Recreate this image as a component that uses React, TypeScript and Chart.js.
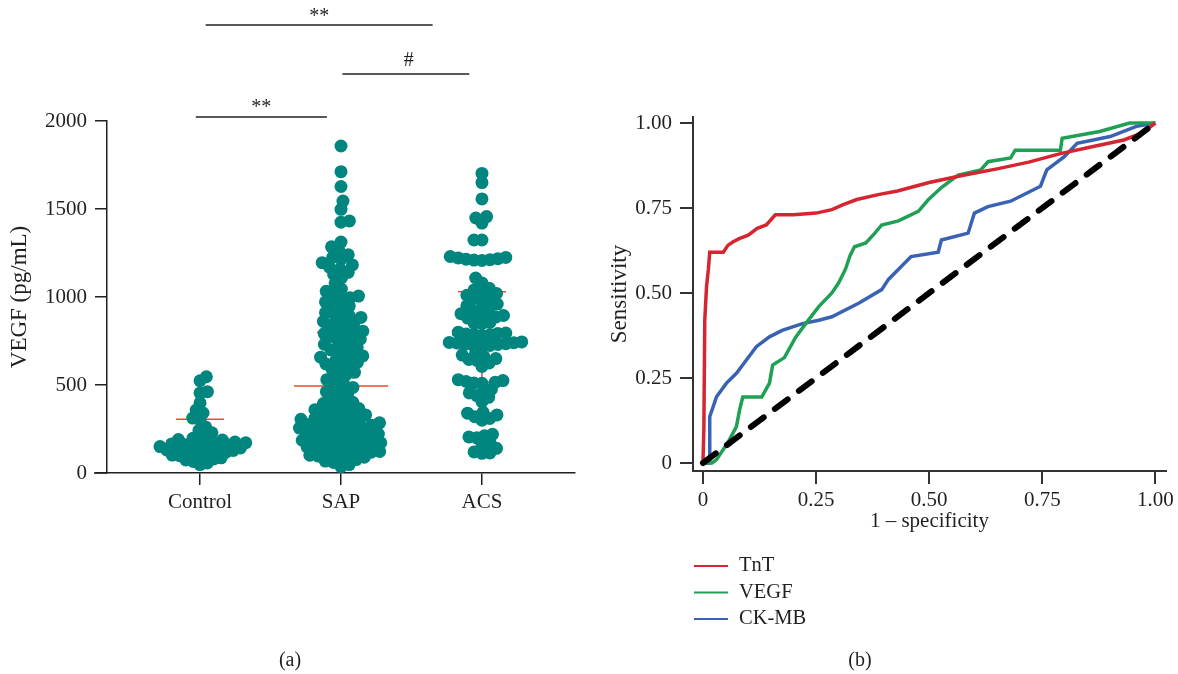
import React, { useEffect, useRef } from 'react';
import { Chart, registerables } from 'chart.js';

Chart.register(...registerables);

const FONT = "'Liberation Serif', 'Times New Roman', 'DejaVu Serif', serif";
const INK = '#231f20';
const TEAL = '#00857f';
const MEDIAN_RED = '#ec4a2c';

// ---------- Panel (a) data ----------
const groupNames = ['Control', 'SAP', 'ACS'];
const controlValues = [547, 524, 462, 455, 398, 358, 341, 312, 302, 262, 242, 228, 215, 198, 190, 187, 182, 176, 172, 168, 165, 162, 159, 155, 152, 150, 146, 142, 139, 135, 131, 128, 125, 121, 118, 112, 108, 102, 98, 92, 86, 80, 74, 66, 57, 48];
const sapValues = [1858, 1712, 1628, 1545, 1498, 1432, 1425,
  1312, 1285, 1262, 1240, 1226, 1215, 1195, 1182, 1170, 1158, 1140, 1128, 1110, 1078,
  1045, 1032, 1018, 1005, 996, 988, 972, 960, 948, 935,
  912, 905, 896, 884, 878, 862, 855, 840, 832, 818, 806, 798, 792,
  782, 776, 760, 752, 745, 731, 718, 712, 700, 688, 676, 665, 658, 650, 642, 628, 620, 611, 603,
  588, 572, 560, 548, 530, 515, 502, 486, 470, 462, 448, 430, 418,
  402, 395, 382, 376, 366, 360, 352, 345, 336, 330, 322, 318, 310, 305, 298, 292, 288, 285,
  280, 276, 271, 266, 262, 255, 252, 246, 241, 236, 232, 228, 221, 216, 212, 205, 201, 198, 192, 186, 182, 178, 172, 166, 161, 158, 152, 147, 142, 138, 131, 127, 122, 118, 112, 106, 101, 96,
  90, 84, 76, 68, 60, 48, 36];
const acsValues = [1702, 1650, 1557, 1457, 1449, 1420, 1324, 1324,
  1230, 1225, 1222, 1218, 1215, 1212, 1210, 1208,
  1108, 1080, 1050, 1040, 1030, 1020, 1010, 1000, 990, 983,
  960, 950, 943, 935, 920, 905, 898, 895, 890, 886, 880,
  855, 852, 848,
  800, 795, 793, 790, 788, 785, 780,
  745, 742, 740, 738, 735, 732, 730, 728, 725, 722,
  685, 670, 660, 650, 645, 640,
  625, 605,
  530, 525, 520, 515, 512, 510,
  475, 465, 455, 440, 430,
  405,
  345, 340, 330, 320, 310, 300,
  220, 212, 205, 200,
  175, 165, 140, 120, 114, 112];
const vegfTicks = [0, 500, 1000, 1500, 2000];
const centreLine = [305, 494, 784];
const spreadLow = [165, 240, 517];
const spreadHigh = [305, 800, 1030];
const bracketFrom = [0.97, 2.01, 1.04];
const bracketTo = [1.9, 2.91, 2.65];
const bracketLevel = [2023, 2267, 2545];
const bracketLabel = ['**', '#', '**'];

// ---------- Panel (b) data ----------
const rocTicks = [0, 0.25, 0.5, 0.75, 1];
const rocTickLabels = ['0', '0.25', '0.50', '0.75', '1.00'];
const tntX = [0, 0.002, 0.004, 0.006, 0.008, 0.012, 0.015, 0.045, 0.055, 0.066, 0.08, 0.1, 0.12, 0.14, 0.16, 0.2, 0.25, 0.285, 0.31, 0.34, 0.39, 0.43, 0.5, 0.57, 0.65, 0.72, 0.79, 0.86, 0.93, 0.97, 1.0];
const tntY = [0, 0.1, 0.42, 0.47, 0.52, 0.57, 0.62, 0.62, 0.64, 0.65, 0.66, 0.67, 0.69, 0.7, 0.73, 0.73, 0.735, 0.745, 0.76, 0.775, 0.79, 0.8, 0.825, 0.845, 0.865, 0.885, 0.91, 0.93, 0.95, 0.97, 1.0];
const vegfX = [0, 0.02, 0.03, 0.04, 0.055, 0.074, 0.081, 0.088, 0.13, 0.147, 0.154, 0.18, 0.205, 0.227, 0.256, 0.285, 0.3, 0.315, 0.325, 0.335, 0.36, 0.38, 0.395, 0.432, 0.476, 0.498, 0.527, 0.564, 0.614, 0.63, 0.68, 0.69, 0.79, 0.794, 0.877, 0.943, 1.0];
const vegfY = [0, 0, 0.01, 0.03, 0.06, 0.107, 0.156, 0.194, 0.194, 0.235, 0.288, 0.31, 0.37, 0.41, 0.46, 0.5, 0.53, 0.57, 0.61, 0.636, 0.647, 0.676, 0.7, 0.712, 0.74, 0.774, 0.81, 0.847, 0.862, 0.886, 0.897, 0.92, 0.92, 0.955, 0.975, 1.0, 1.0];
const ckmbX = [0, 0.015, 0.015, 0.03, 0.052, 0.074, 0.096, 0.118, 0.147, 0.175, 0.22, 0.256, 0.285, 0.344, 0.395, 0.41, 0.46, 0.52, 0.527, 0.586, 0.6, 0.63, 0.68, 0.746, 0.76, 0.798, 0.827, 0.9, 0.958, 1.0];
const ckmbY = [0, 0, 0.136, 0.195, 0.235, 0.264, 0.303, 0.342, 0.371, 0.39, 0.41, 0.42, 0.43, 0.47, 0.51, 0.54, 0.607, 0.62, 0.656, 0.676, 0.735, 0.754, 0.77, 0.814, 0.862, 0.9, 0.94, 0.96, 0.99, 1.0];
const chanceX = [0, 1];
const chanceY = [0, 1];

function swarm(values: number[], pxPerVal: number, d: number): number[] {
  const order = values.map((_, i) => i).sort((a, b) => values[a] - values[b]);
  const placed: { x: number; y: number }[] = [];
  const out: number[] = new Array(values.length).fill(0);
  let flip = false;
  for (const i of order) {
    const y = values[i] * pxPerVal;
    const near = placed.filter((p) => Math.abs(p.y - y) < d);
    const cands = [0];
    for (const p of near) {
      const dx = Math.sqrt(d * d - (p.y - y) * (p.y - y));
      cands.push(p.x + dx, p.x - dx);
    }
    cands.sort((a, b) => Math.abs(a) - Math.abs(b) || (flip ? b - a : a - b));
    let chosen = 0;
    for (const c of cands) {
      if (near.every((p) => (p.x - c) ** 2 + (p.y - y) ** 2 >= d * d - 1e-6)) { chosen = c; break; }
    }
    flip = !flip;
    placed.push({ x: chosen, y });
    out[i] = chosen;
  }
  return out;
}

const font = { family: FONT, size: 21 };
const yTitleFont = { family: FONT, size: 23 };

const panelAPlugin = {
  id: 'panelA',
  beforeDatasetsDraw(chart: any) {
    const { ctx, scales } = chart;
    const x = scales.x, y = scales.y;
    const centreHalf = [24, 47, 30];
    const capHalf = [36, 24, 24];
    ctx.save();
    ctx.strokeStyle = MEDIAN_RED;
    ctx.lineWidth = 1.5;
    for (let g = 0; g < 3; g++) {
      const cx = x.getPixelForValue(g + 1);
      const yc = y.getPixelForValue(centreLine[g]);
      const yl = y.getPixelForValue(spreadLow[g]);
      const yh = y.getPixelForValue(spreadHigh[g]);
      ctx.beginPath();
      ctx.moveTo(cx - centreHalf[g], yc); ctx.lineTo(cx + centreHalf[g], yc);
      ctx.moveTo(cx, yl); ctx.lineTo(cx, yh);
      ctx.moveTo(cx - capHalf[g], yl); ctx.lineTo(cx + capHalf[g], yl);
      if (spreadHigh[g] !== centreLine[g]) {
        ctx.moveTo(cx - capHalf[g], yh); ctx.lineTo(cx + capHalf[g], yh);
      }
      ctx.stroke();
    }
    ctx.restore();
  },
  afterDraw(chart: any) {
    const { ctx, scales, chartArea } = chart;
    const x = scales.x, y = scales.y;
    ctx.save();
    ctx.strokeStyle = INK;
    ctx.lineWidth = 1.5;
    ctx.beginPath();
    ctx.moveTo(chartArea.left - 13, chartArea.bottom);
    ctx.lineTo(chartArea.left, chartArea.bottom);
    ctx.stroke();
    ctx.font = `20px ${FONT}`;
    ctx.fillStyle = INK;
    ctx.textAlign = 'center';
    ctx.textBaseline = 'alphabetic';
    for (let b = 0; b < bracketLevel.length; b++) {
      const py = y.getPixelForValue(bracketLevel[b]);
      const x0 = x.getPixelForValue(bracketFrom[b]);
      const x1 = x.getPixelForValue(bracketTo[b]);
      ctx.beginPath();
      ctx.moveTo(x0, py); ctx.lineTo(x1, py);
      ctx.stroke();
      const m = ctx.measureText(bracketLabel[b]);
      const asc = m.actualBoundingBoxAscent, desc = m.actualBoundingBoxDescent;
      const targetCentre = py - (bracketLabel[b] === '#' ? 15.5 : 13.5);
      const baseline = targetCentre + (asc - desc) / 2;
      ctx.fillText(bracketLabel[b], (x0 + x1) / 2 + (b === 1 ? 3 : 0), baseline);
    }
    ctx.restore();
  },
};

const rocLegendPlugin = {
  id: 'rocLegend',
  afterDraw(chart: any) {
    const { ctx, chartArea } = chart;
    const items = chart.data.datasets.filter((d: any) => d.label);
    ctx.save();
    ctx.font = `20.5px ${FONT}`;
    ctx.textBaseline = 'middle';
    ctx.textAlign = 'left';
    ctx.fillStyle = INK;
    items.forEach((ds: any, i: number) => {
      const yy = chartArea.bottom + 95 + i * 26.5;
      ctx.strokeStyle = ds.borderColor;
      ctx.lineWidth = 2;
      ctx.beginPath();
      ctx.moveTo(chartArea.left + 1, yy);
      ctx.lineTo(chartArea.left + 35, yy);
      ctx.stroke();
      ctx.fillText(ds.label, chartArea.left + 46, yy);
    });
    ctx.restore();
  },
};

function pts(xs: number[], ys: number[]) {
  return xs.map((x, i) => ({ x, y: ys[i] }));
}

export default function App() {
  const leftRef = useRef<HTMLCanvasElement>(null);
  const rightRef = useRef<HTMLCanvasElement>(null);

  useEffect(() => {
    const axisGrid = { drawOnChartArea: false, drawTicks: true, tickLength: 12, lineWidth: 1.5, color: INK };
    const axisBorder = { display: true, color: INK, width: 1.5 };
    const groups = [controlValues, sapValues, acsValues];
    const swarmGap = [7.5, 8.5, 8];
    const left = new Chart(leftRef.current as HTMLCanvasElement, {
      type: 'scatter',
      data: {
        datasets: groups.map((vals, g) => ({
          label: groupNames[g],
          data: vals.map((v) => ({ x: g + 1, y: v })),
          backgroundColor: TEAL,
          borderWidth: 0,
          pointRadius: 6.5,
          pointHoverRadius: 6.5,
          clip: false as any,
        })),
      },
      options: {
        animation: false,
        responsive: false,
        events: [],
        layout: { padding: { left: 0, top: 121, right: 15, bottom: 141 } },
        plugins: { legend: { display: false }, tooltip: { enabled: false } },
        scales: {
          x: {
            type: 'linear',
            min: 0.34,
            max: 3.66,
            afterBuildTicks: (s: any) => { s.ticks = [1, 2, 3].map((v) => ({ value: v })); },
            afterFit: (s: any) => { s.height = 60; },
            ticks: { font, color: INK, padding: 5, autoSkip: false, maxRotation: 0, callback: (v: any) => groupNames[Math.round(v) - 1] },
            grid: axisGrid,
            border: axisBorder,
          },
          y: {
            min: 0,
            max: 2000,
            afterBuildTicks: (s: any) => { s.ticks = vegfTicks.map((v) => ({ value: v })); },
            afterFit: (s: any) => { s.width = 107; },
            ticks: { font, color: INK, padding: 8, callback: (v: any) => String(v) },
            grid: axisGrid,
            border: axisBorder,
            title: { display: true, text: 'VEGF (pg/mL)', font: yTitleFont, color: INK, padding: { top: 6, bottom: 0 } },
          },
        },
      } as any,
      plugins: [panelAPlugin],
    });
    const xs = left.scales.x as any;
    const ys = left.scales.y as any;
    const ppx = xs.getPixelForValue(2) - xs.getPixelForValue(1);
    const ppv = Math.abs(ys.getPixelForValue(1000) - ys.getPixelForValue(0)) / 1000;
    groups.forEach((vals, g) => {
      const off = swarm(vals, ppv, swarmGap[g]);
      (left.data.datasets[g] as any).data = vals.map((v, k) => ({ x: g + 1 + off[k] / ppx, y: v }));
    });
    left.update();

    const rocGrid = { drawOnChartArea: false, drawTicks: true, tickLength: 13, lineWidth: 2, color: '#333' };
    const rocBorder = { display: true, color: '#333', width: 2 };
    const right = new Chart(rightRef.current as HTMLCanvasElement, {
      type: 'scatter',
      data: {
        datasets: [
          { label: '', data: pts(chanceX, chanceY), borderColor: '#000', borderWidth: 6, borderDash: [16, 14], borderCapStyle: 'round', showLine: true, pointRadius: 0, order: 0 },
          { label: 'TnT', data: pts(tntX, tntY), borderColor: '#d42530', borderWidth: 3.5, showLine: true, pointRadius: 0, order: 1 },
          { label: 'VEGF', data: pts(vegfX, vegfY), borderColor: '#1fa055', borderWidth: 3.5, showLine: true, pointRadius: 0, order: 2 },
          { label: 'CK-MB', data: pts(ckmbX, ckmbY), borderColor: '#3a62b2', borderWidth: 3.5, showLine: true, pointRadius: 0, order: 3 },
        ],
      },
      options: {
        animation: false,
        responsive: false,
        events: [],
        layout: { padding: { left: 0, top: 117, right: 11, bottom: 140 } },
        plugins: { legend: { display: false }, tooltip: { enabled: false } },
        scales: {
          x: {
            type: 'linear',
            min: -0.022,
            max: 1.023,
            afterBuildTicks: (s: any) => { s.ticks = rocTicks.map((v) => ({ value: v })); },
            afterFit: (s: any) => { s.height = 63; },
            ticks: { font, color: INK, padding: 4, autoSkip: false, maxRotation: 0, callback: (v: any) => rocTickLabels[rocTicks.indexOf(v)] },
            grid: rocGrid,
            border: rocBorder,
            title: { display: true, text: '1 – specificity', font, color: INK, padding: 0 },
          },
          y: {
            min: -0.0235,
            max: 1.0176,
            afterBuildTicks: (s: any) => { s.ticks = rocTicks.map((v) => ({ value: v })); },
            afterFit: (s: any) => { s.width = 133; },
            ticks: { font, color: INK, padding: 8, callback: (v: any) => rocTickLabels[rocTicks.indexOf(v)] },
            grid: rocGrid,
            border: rocBorder,
            title: { display: true, text: 'Sensitivity', font: yTitleFont, color: INK, padding: { top: 46, bottom: 0 } },
          },
        },
      } as any,
      plugins: [rocLegendPlugin],
    });

    return () => { left.destroy(); right.destroy(); };
  }, []);

  const caption: React.CSSProperties = { position: 'absolute', top: 659, transform: 'translate(-50%, -50%)', fontFamily: FONT, fontSize: 20, color: INK, whiteSpace: 'nowrap' };
  return (
    <div style={{ position: 'fixed', left: 0, top: 0, width: 1178, height: 674, background: '#fff', overflow: 'hidden' }}>
      <canvas ref={leftRef} width={590} height={674} style={{ position: 'absolute', left: 0, top: 0 }} />
      <canvas ref={rightRef} width={618} height={674} style={{ position: 'absolute', left: 560, top: 0 }} />
      <div style={{ ...caption, left: 290 }}>(a)</div>
      <div style={{ ...caption, left: 860 }}>(b)</div>
    </div>
  );
}
